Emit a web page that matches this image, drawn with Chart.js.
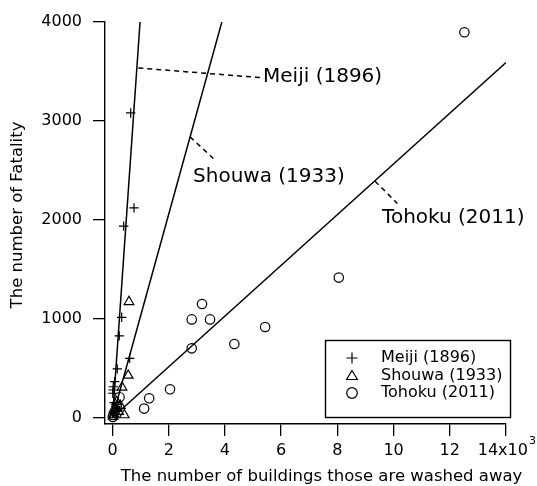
<!DOCTYPE html>
<html>
<head>
<meta charset="utf-8">
<script src="https://cdn.jsdelivr.net/npm/chart.js@4.4.0/dist/chart.umd.min.js"></script>
<style>
  html, body { margin: 0; padding: 0; background: #fff; }
  #wrap { width: 537px; height: 486px; }
</style>
</head>
<body>
<div id="wrap"><canvas id="chart" width="537" height="486"></canvas></div>
<script>
const FONT = '"DejaVu Sans", sans-serif';

// axis ticks
const xTicks = [0, 2000, 4000, 6000, 8000, 10000, 12000, 14000];
const yTicks = [0, 1000, 2000, 3000, 4000];

const seriesNames = ['Meiji (1896)', 'Shouwa (1933)', 'Tohoku (2011)'];

// buildings washed away / fatalities
const meijiX = [647, 765, 398, 327, 240, 610, 170, 80, 28, 20, 10, 60, 120, 180, 40, 90];
const meijiY = [3080, 2120, 1935, 1013, 825, 598, 492, 362, 311, 278, 245, 150, 110, 70, 60, 30];

const shouwaX = [587, 560, 340, 420, 150, 100, 220, 50, 280, 30];
const shouwaY = [1170, 425, 305, 25, 160, 90, 60, 30, 120, 10];

const tohokuX = [12520, 8050, 5430, 4335, 3185, 2818, 3470, 2818, 2046, 1305, 1125, 250, 30, 80, 150, 10];
const tohokuY = [3896, 1415, 915, 743, 1147, 992, 992, 699, 285, 194, 90, 205, 25, 60, 110, 5];

// fitted lines (end points)
const meijiFitX = [0, 980];
const meijiFitY = [0, 4000];
const shouwaFitX = [0, 3890];
const shouwaFitY = [0, 4000];
const tohokuFitX = [0, 14000];
const tohokuFitY = [0, 3590];

const LAST_LABEL = '14x10';
const LAST_PAD = '\u2009\u2009';

function pts(xs, ys) {
  return xs.map((x, i) => ({ x: x, y: ys[i] }));
}

// dashed call-outs for the fitted lines
const notes = [
  { text: seriesNames[0], from: [918, 3535], to: [5249, 3438], at: [5356, 3441] },
  { text: seriesNames[1], from: [2758, 2838], to: [3587, 2620], at: [2865, 2430] },
  { text: seriesNames[2], from: [9342, 2390], to: [10135, 2165], at: [9591, 2016] }
];

const decor = {
  id: 'decor',
  beforeDraw(chart) {
    const c = chart.ctx;
    c.save();
    c.fillStyle = '#fff';
    c.fillRect(0, 0, chart.width, chart.height);
    c.restore();
  },
  afterDraw(chart) {
    const c = chart.ctx, xs = chart.scales.x, ys = chart.scales.y;
    c.save();
    c.strokeStyle = '#000';
    c.fillStyle = '#000';

    // call-outs
    c.lineWidth = 1.5;
    c.setLineDash([5, 4]);
    notes.forEach(n => {
      c.beginPath();
      c.moveTo(xs.getPixelForValue(n.from[0]), ys.getPixelForValue(n.from[1]));
      c.lineTo(xs.getPixelForValue(n.to[0]), ys.getPixelForValue(n.to[1]));
      c.stroke();
    });
    c.setLineDash([]);
    c.font = '20px ' + FONT;
    c.textAlign = 'left';
    c.textBaseline = 'middle';
    notes.forEach(n => {
      c.fillText(n.text, xs.getPixelForValue(n.at[0]), ys.getPixelForValue(n.at[1]));
    });

    // legend box
    c.lineWidth = 1.4;
    c.strokeRect(325.5, 340.5, 185, 77);
    const rows = [358, 375.5, 393];
    const sx = 352;
    c.lineWidth = 1.2;
    // cross
    c.beginPath();
    c.moveTo(sx - 5.5, rows[0]); c.lineTo(sx + 5.5, rows[0]);
    c.moveTo(sx, rows[0] - 5.5); c.lineTo(sx, rows[0] + 5.5);
    c.stroke();
    // triangle
    c.beginPath();
    c.moveTo(sx, rows[1] - 5);
    c.lineTo(sx + 5.4, rows[1] + 4);
    c.lineTo(sx - 5.4, rows[1] + 4);
    c.closePath();
    c.stroke();
    // circle
    c.beginPath();
    c.arc(sx, rows[2], 5.3, 0, Math.PI * 2);
    c.stroke();
    c.font = '16px ' + FONT;
    seriesNames.forEach((s, i) => c.fillText(s, 381, rows[i]));

    // axis titles
    c.font = '16.5px ' + FONT;
    c.textAlign = 'center';
    c.fillText('The number of buildings those are washed away', 321.5, 477);
    c.save();
    c.translate(18, 215);
    c.rotate(-Math.PI / 2);
    c.fillText('The number of Fatality', 0, 0);
    c.restore();

    // exponent on the last x tick label
    c.font = '16px ' + FONT;
    const full = c.measureText(LAST_LABEL + LAST_PAD).width;
    const base = c.measureText(LAST_LABEL).width;
    const ex = xs.getPixelForValue(14000) - full / 2 + base + 1;
    c.font = '11px ' + FONT;
    c.textAlign = 'left';
    c.textBaseline = 'alphabetic';
    c.fillText('3', ex, 444);
    c.restore();
  }
};

function scatterSet(label, xs, ys, style, r) {
  return {
    label: label,
    data: pts(xs, ys),
    pointStyle: style,
    pointRadius: r,
    pointBorderWidth: 1.2,
    pointBorderColor: '#000',
    pointBackgroundColor: 'rgba(0,0,0,0)',
    showLine: false
  };
}

function fitSet(xs, ys) {
  return {
    data: pts(xs, ys),
    showLine: true,
    pointRadius: 0,
    borderColor: '#000',
    borderWidth: 1.5,
    fill: false
  };
}

new Chart(document.getElementById('chart'), {
  type: 'scatter',
  data: {
    datasets: [
      scatterSet(seriesNames[0], meijiX, meijiY, 'cross', 4.7),
      scatterSet(seriesNames[1], shouwaX, shouwaY, 'triangle', 5.5),
      scatterSet(seriesNames[2], tohokuX, tohokuY, 'circle', 4.7),
      fitSet(meijiFitX, meijiFitY),
      fitSet(shouwaFitX, shouwaFitY),
      fitSet(tohokuFitX, tohokuFitY)
    ]
  },
  options: {
    responsive: false,
    animation: false,
    devicePixelRatio: 1,
    layout: { padding: { top: 22, right: 31, left: 0, bottom: 0 } },
    plugins: { legend: { display: false }, tooltip: { enabled: false } },
    scales: {
      x: {
        type: 'linear',
        min: -267,
        max: 14000,
        afterBuildTicks: s => { s.ticks = xTicks.map(v => ({ value: v })); },
        afterFit: s => {
          s.height = 62;
          s.paddingLeft = 0; s.paddingRight = 0; s.paddingTop = 0; s.paddingBottom = 0;
        },
        grid: { display: true, drawOnChartArea: false, drawTicks: true, tickLength: 12, color: '#000', lineWidth: 1.3 },
        border: { display: true, color: '#000', width: 1.4 },
        ticks: {
          color: '#000',
          font: { family: FONT, size: 16 },
          padding: 5,
          maxRotation: 0,
          autoSkip: false,
          callback: v => v === 14000 ? LAST_LABEL + LAST_PAD : String(v / 1000)
        }
      },
      y: {
        type: 'linear',
        min: -66,
        max: 4000,
        afterBuildTicks: s => { s.ticks = yTicks.map(v => ({ value: v })); },
        afterFit: s => {
          s.width = 105;
          s.paddingLeft = 0; s.paddingRight = 0; s.paddingTop = 0; s.paddingBottom = 0;
        },
        grid: { display: true, drawOnChartArea: false, drawTicks: true, tickLength: 12, color: '#000', lineWidth: 1.3 },
        border: { display: true, color: '#000', width: 1.4 },
        ticks: {
          color: '#000',
          font: { family: FONT, size: 16 },
          padding: 11,
          autoSkip: false,
          callback: v => String(v)
        }
      }
    }
  },
  plugins: [decor]
});
</script>
</body>
</html>
